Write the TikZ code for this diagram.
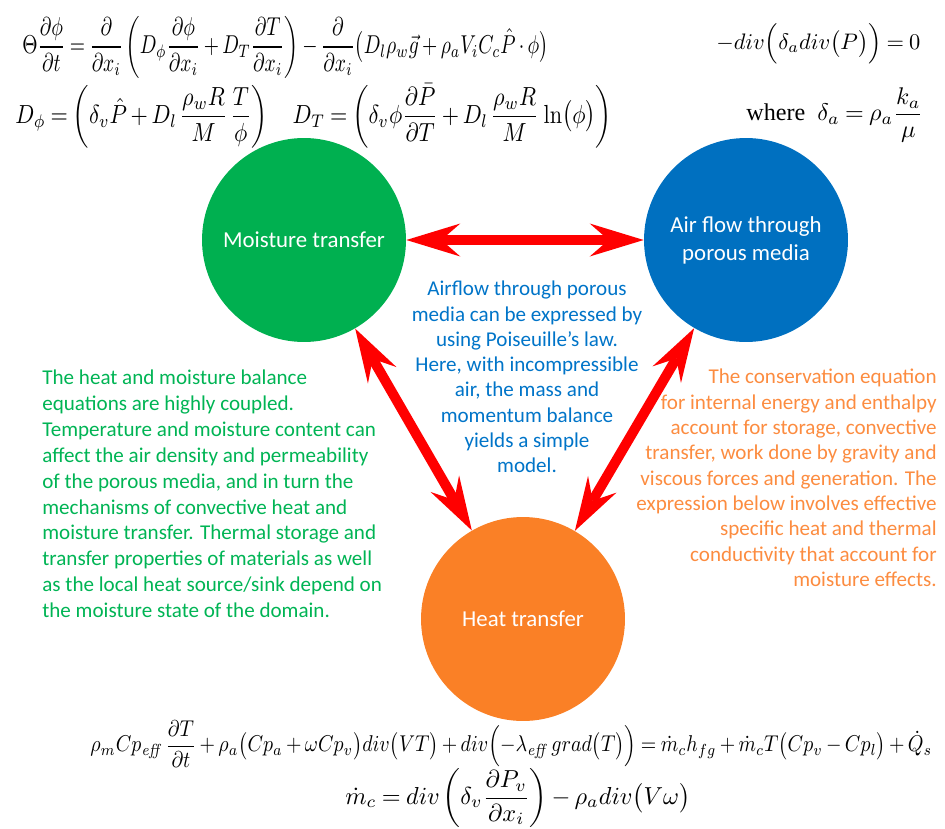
\documentclass[tikz,border=0pt]{standalone}
\usepackage{graphicx}
\usepackage[no-math]{fontspec}
\setmainfont{Liberation Serif}
\newfontfamily\calib{Carlito}
\usetikzlibrary{arrows.meta}
\definecolor{cgreen}{RGB}{0,176,80}
\definecolor{cblue}{RGB}{0,112,192}
\definecolor{corange}{RGB}{250,128,38}
\definecolor{tgreen}{RGB}{0,180,84}
\definecolor{tblue}{RGB}{0,116,200}
\definecolor{torange}{RGB}{252,140,64}
\newcommand{\tightmath}{\thinmuskip=2mu\medmuskip=3mu plus 1mu\thickmuskip=4mu plus 1mu}
\tikzset{
  ball/.style={circle, minimum size=4.08cm, inner sep=0pt, text=white, align=center,
    font=\calib\fontsize{13}{15.9}\selectfont},
  dblarrow/.style={draw=red, line width=0.2cm,
    {Stealth[length=1.08cm,width=0.66cm,inset=0.38cm,line width=0pt]}-{Stealth[length=1.08cm,width=0.66cm,inset=0.38cm,line width=0pt]}},
  eq/.style={inner sep=0pt, anchor=west, text=black, font=\tightmath},
  gtxt/.style={inner sep=0pt, text=tgreen, align=left, font=\calib\fontsize{12}{14.7}\selectfont},
  btxt/.style={inner sep=0pt, text=tblue, align=center, font=\calib\fontsize{12}{14.35}\selectfont},
  otxt/.style={inner sep=0pt, text=torange, align=right, font=\calib\fontsize{12}{14.4}\selectfont}
}
\begin{document}
\begin{tikzpicture}[x=0.02cm,y=-0.02cm]
\useasboundingbox (0,0) rectangle (945,828);

% equations
\node[eq] (e1) at (22,47) {\resizebox*{10.52cm}{1.24cm}{$\displaystyle \Theta\frac{\partial\phi}{\partial t}=\frac{\partial}{\partial x_i}\left(D_\phi\frac{\partial\phi}{\partial x_i}+D_T\frac{\partial T}{\partial x_i}\right)-\frac{\partial}{\partial x_i}\bigl(D_l\rho_w\vec{g}+\rho_a V_i C_c\hat{P}\cdot\phi\bigr)$}};
\node[eq] (e2) at (15,116) {\resizebox*{11.94cm}{1.28cm}{$\displaystyle D_\phi=\left(\delta_v\hat{P}+D_l\,\frac{\rho_w R}{M}\,\frac{T}{\phi}\right)\quad D_T=\left(\delta_v\phi\frac{\partial\bar{P}}{\partial T}+D_l\,\frac{\rho_w R}{M}\,\ln\bigl(\phi\bigr)\right)$}};
\node[eq] (e3) at (716,44) {\resizebox{4.08cm}{!}{$\displaystyle -div\Bigl(\delta_a div\bigl(P\bigr)\Bigr)=0$}};
\node[eq] (e4) at (746,115) {\resizebox{3.54cm}{!}{$\displaystyle \mbox{where}\ \ \delta_a=\rho_a\frac{k_a}{\mu}$}};
\node[eq] (e5) at (90,744) {\resizebox*{16.84cm}{0.94cm}{$\displaystyle \rho_m Cp_{\mathit{eff}}\,\frac{\partial T}{\partial t}+\rho_a\bigl(Cp_a+\omega Cp_v\bigr)div\bigl(VT\bigr)+div\Bigl(-\lambda_{\mathit{eff}}\,grad\bigl(T\bigr)\Bigr)=\dot{m}_c h_{fg}+\dot{m}_c T\bigl(Cp_v-Cp_l\bigr)+\dot{Q}_s$}};
\node[eq] (e6) at (345,798) {\resizebox*{6.9cm}{1.18cm}{$\displaystyle \dot{m}_c=div\left(\delta_v\frac{\partial P_v}{\partial x_i}\right)-\rho_a div\bigl(V\omega\bigr)$}};

% circles
\node[ball, fill=cgreen] (mt) at (304,240) {Moisture transfer};
\node[ball, fill=cblue] (af) at (746,240) {Air flow through\\porous media};
\node[ball, fill=corange] (ht) at (523,619) {Heat transfer};

% arrows
\draw[dblarrow] (mt) -- (af);
\draw[dblarrow] (mt) -- (ht);
\draw[dblarrow] (af) -- (ht);

% texts
\node[gtxt, anchor=north west] (gt) at (42,370) {The heat and moisture balance\\equations are highly coupled.\\Temperature and moisture content can\\affect the air density and permeability\\of the porous media, and in turn the\\mechanisms of convective heat and\\moisture transfer. Thermal storage and\\transfer properties of materials as well\\as the local heat source/sink depend on\\the moisture state of the domain.};
\node[btxt, anchor=north] (bt) at (527,281) {Airflow through porous\\media can be expressed by\\using Poiseuille’s law.\\Here, with incompressible\\air, the mass and\\momentum balance\\yields a simple\\model.};
\node[otxt, anchor=north east] (ot) at (937,369) {The conservation equation\\for internal energy and enthalpy\\account for storage, convective\\transfer, work done by gravity and\\viscous forces and generation. The\\expression below involves effective\\specific heat and thermal\\conductivity that account for\\moisture effects.};
\end{tikzpicture}
\end{document}
